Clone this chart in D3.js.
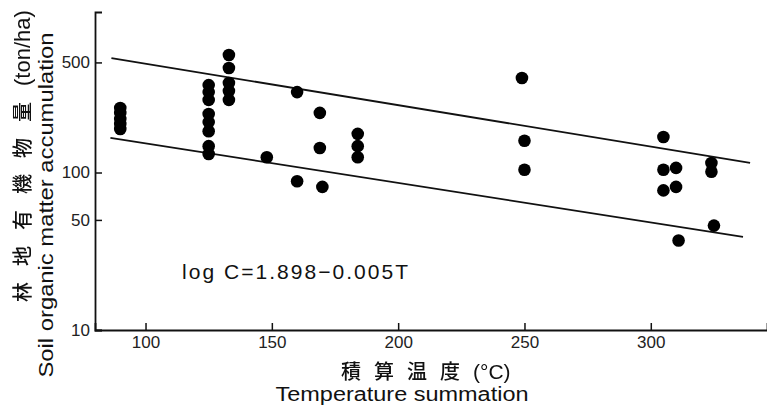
<!DOCTYPE html>
<html>
<head>
<meta charset="utf-8">
<script src="https://cdn.jsdelivr.net/npm/d3@7"></script>
<style>
  html, body { margin: 0; padding: 0; background: #fff; }
  svg { display: block; }
</style>
</head>
<body>
<svg id="chart" width="767" height="406"></svg>
<script>
// Temperature summation (°C) of each plot
const tempSum = [
  90, 90, 90, 90, 90,
  125, 125, 125, 125, 125, 125, 125, 125,
  133, 133, 133, 133, 133,
  148, 160, 160, 169, 169, 170,
  184, 184, 184,
  249, 250, 250,
  305, 305, 310, 305, 310, 311,
  324, 324, 325
];
// Soil organic matter accumulation (ton/ha)
const organicMatter = [
  257, 239, 219, 203, 189,
  359, 324, 289, 235, 209, 183, 147, 131,
  557, 461, 370, 329, 289,
  125, 324, 88, 239, 143, 81,
  176, 147, 125,
  398, 159, 104,
  168, 104, 107, 77, 81, 37,
  115, 101, 46
];
// Upper and lower envelope lines: [T, C] end points
const upperLine = [[86.5, 533], [339.3, 115]];
const lowerLine = [[86.1, 166], [336.5, 39]];

const xTicks = [100, 150, 200, 250, 300];
const yTicks = [10, 50, 100, 500];
const yTitleJa = ["林地有機物量", "(ton/ha)"];
const yTitleEn = "Soil organic matter accumulation";
const xTitleJa = ["積算温度", "(°C)"];
const xTitleEn = "Temperature summation";
const equation = "log C=1.898−0.005T";

const svg = d3.select("#chart");
const font = "'Liberation Sans', Arial, sans-serif";
const cjk = "'Noto Sans CJK JP', sans-serif";
const ink = "#111";

// Grey-only rendering for the title text
svg.append("defs").append("filter").attr("id", "mono")
  .append("feColorMatrix").attr("type", "saturate").attr("values", 0);

const x = d3.scaleLinear().domain([80, 346]).range([95, 767]);
const y = d3.scaleLog().domain([10, 1045]).range([330, 12]);

// Axes with inward ticks
const gx = svg.append("g").attr("transform", "translate(0,330)")
  .call(d3.axisBottom(x).tickValues(xTicks).tickSize(-7).tickPadding(6).tickFormat(d3.format("d")));
const gy = svg.append("g").attr("transform", "translate(95,0)")
  .call(d3.axisLeft(y).tickValues(yTicks).tickSize(-7).tickPadding(5).tickFormat(d3.format("d")));

[gx, gy].forEach(g => {
  g.select(".domain").attr("stroke", ink).attr("stroke-width", 1.8);
  g.selectAll(".tick line").attr("stroke", ink).attr("stroke-width", 1.5);
  g.selectAll(".tick text")
    .attr("font-family", font).attr("font-size", 17).attr("fill", "#222");
});

// Envelope lines
const line = d3.line().x(d => x(d[0])).y(d => y(d[1]));
[upperLine, lowerLine].forEach(l => {
  svg.append("path").datum(l).attr("d", line)
    .attr("fill", "none").attr("stroke", ink).attr("stroke-width", 1.8);
});

// Data points
svg.append("g").selectAll("circle")
  .data(tempSum.map((t, i) => [t, organicMatter[i]]))
  .join("circle")
  .attr("cx", d => x(d[0]))
  .attr("cy", d => y(d[1]))
  .attr("r", 6.3)
  .attr("fill", "#000");

// Regression equation
svg.append("text")
  .attr("x", 182).attr("y", 279)
  .attr("font-family", font).attr("font-size", 21).attr("fill", ink)
  .attr("textLength", 226).attr("lengthAdjust", "spacing")
  .text(equation);

// Title with spaced-out Japanese followed by a Latin unit
function mixedTitle(sel, parts, spacing, unitSize) {
  sel.append("tspan")
    .attr("font-family", cjk).attr("font-weight", 500)
    .style("letter-spacing", spacing + "px")
    .text(parts[0]);
  sel.append("tspan")
    .attr("font-family", font).attr("font-size", unitSize)
    .text(parts[1]);
}

// Y axis titles
const yJa = svg.append("g").attr("filter", "url(#mono)")
  .append("text")
  .attr("transform", "translate(30,302) rotate(-90)")
  .attr("font-size", 20).attr("fill", ink);
mixedTitle(yJa, yTitleJa, 16, 22);

svg.append("text")
  .attr("transform", "translate(53,205) rotate(-90)")
  .attr("text-anchor", "middle")
  .attr("font-family", font).attr("font-size", 20).attr("fill", ink)
  .attr("textLength", 345).attr("lengthAdjust", "spacingAndGlyphs")
  .text(yTitleEn);

// X axis titles
const xJa = svg.append("g").attr("filter", "url(#mono)")
  .append("text")
  .attr("x", 341).attr("y", 379)
  .attr("font-size", 20).attr("fill", ink);
mixedTitle(xJa, xTitleJa, 13, 21);

svg.append("text")
  .attr("x", 402).attr("y", 401)
  .attr("text-anchor", "middle")
  .attr("font-family", font).attr("font-size", 20).attr("fill", ink)
  .attr("textLength", 253).attr("lengthAdjust", "spacingAndGlyphs")
  .text(xTitleEn);
</script>
</body>
</html>
